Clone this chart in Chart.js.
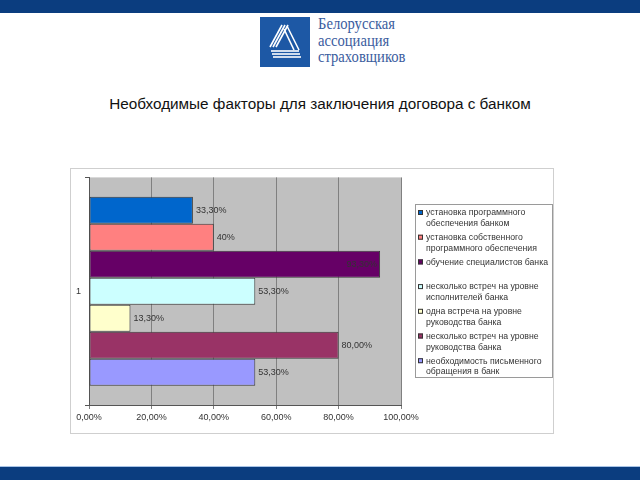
<!DOCTYPE html>
<html>
<head>
<meta charset="utf-8">
<script src="https://cdn.jsdelivr.net/npm/chart.js@4"></script>
<style>
  html, body { margin: 0; padding: 0; }
  body { width: 640px; height: 480px; position: relative; background: #fff; overflow: hidden; font-family: 'Liberation Sans', Arial, sans-serif; }
  .band-top { position: absolute; left: 0; top: 0; width: 640px; height: 13px; background: #0b3d7f; }
  .band-bottom { position: absolute; left: 0; top: 466px; width: 640px; height: 14px; background: #0b3d7f; border-top: 1px solid #a9c4e6; box-sizing: border-box; }
  .logo { position: absolute; left: 260px; top: 17px; width: 50px; height: 50px; }
  .logo-text { position: absolute; left: 318px; top: 16px; font-family: 'Liberation Serif', serif; font-size: 17px; line-height: 16.5px; color: #3a5c9e; transform: scaleX(0.86); transform-origin: left top; }
  .title { position: absolute; left: 0; top: 95px; width: 640px; text-align: center; font-size: 15.3px; color: #111; }
  .chart-box { position: absolute; left: 70px; top: 168px; width: 484px; height: 266px; border: 1px solid #cfcfcf; box-sizing: border-box; background: #fff; }
  #chart { position: absolute; left: 70px; top: 168px; }
</style>
</head>
<body>
<div class="band-top"></div>
<svg class="logo" viewBox="0 0 50 50">
  <rect width="50" height="50" fill="#1d58a5"/>
  <g stroke="#fff" stroke-width="1.6" fill="none">
    <path d="M22 8 L10 30"/><path d="M25 8 L13 30"/><path d="M28 8 L16 30"/>
    <path d="M27 9 L39 33"/><path d="M24 12 L34 33"/>
    <path d="M11 34 L39 34"/><path d="M12 37 L40 37"/><path d="M13 40 L41 40"/>
  </g>
</svg>
<div class="logo-text">Белорусская<br>ассоциация<br>страховщиков</div>
<div class="title">Необходимые факторы для заключения договора с банком</div>
<div class="band-bottom"></div>
<div class="chart-box"></div>
<canvas id="chart" width="484" height="266"></canvas>
<script>
const categories = ['1'];
const seriesNames = [
  'установка программного\nобеспечения банком',
  'установка собственного\nпрограммного обеспечения',
  'обучение специалистов банка',
  'несколько встреч на уровне\nисполнителей банка',
  'одна встреча на уровне\nруководства банка',
  'несколько встреч на уровне\nруководства банка',
  'необходимость письменного\nобращения в банк'
];
const seriesValues = [33.3, 40, 93.3, 53.3, 13.3, 80, 53.3];
const valueLabels = ['33,30%', '40%', '93,30%', '53,30%', '13,30%', '80,00%', '53,30%'];
const seriesColors = ['#0066cc', '#ff8080', '#660066', '#ccffff', '#ffffcc', '#993366', '#9999ff'];
const xTicks = [0, 20, 40, 60, 80, 100];

const ctx = document.getElementById('chart').getContext('2d');

const plotBackground = {
  id: 'plotBackground',
  beforeDraw(chart) {
    const a = chart.chartArea;
    const c = chart.ctx;
    c.save();
    c.fillStyle = '#c0c0c0';
    c.fillRect(a.left, a.top, a.right - a.left, a.bottom - a.top);
    c.restore();
  }
};

const valueText = {
  id: 'valueText',
  afterDatasetsDraw(chart) {
    const c = chart.ctx;
    c.save();
    c.font = '9px "Liberation Sans"';
    c.fillStyle = '#333';
    c.textBaseline = 'middle';
    chart.data.datasets.forEach((ds, i) => {
      const bar = chart.getDatasetMeta(i).data[0];
      if (ds.data[0] > 90) {
        c.textAlign = 'right';
        c.fillText(valueLabels[i], bar.x - 3, bar.y);
      } else {
        c.textAlign = 'left';
        c.fillText(valueLabels[i], bar.x + 3, bar.y);
      }
    });
    c.restore();
  }
};

const sideLegend = {
  id: 'sideLegend',
  afterDraw(chart) {
    const c = chart.ctx;
    const left = 345, top = 36, right = 482, bottom = 209;
    c.save();
    c.strokeStyle = '#9a9a9a';
    c.lineWidth = 1;
    c.strokeRect(left + 0.5, top + 0.5, right - left, bottom - top);
    c.font = '8.7px "Liberation Sans"';
    c.textBaseline = 'middle';
    c.textAlign = 'left';
    chart.data.datasets.forEach((ds, i) => {
      const y = 45 + i * 24.7;
      c.fillStyle = ds.backgroundColor;
      c.fillRect(348, y - 3, 5, 5);
      c.strokeStyle = '#333';
      c.strokeRect(348.5, y - 2.5, 4, 4);
      c.fillStyle = '#333';
      ds.label.split('\n').forEach((line, k) => {
        c.fillText(line, 356, y + k * 10.7);
      });
    });
    c.restore();
  }
};

new Chart(ctx, {
  type: 'bar',
  data: {
    labels: categories,
    datasets: seriesNames.map((name, i) => ({
      label: name,
      data: [seriesValues[i]],
      backgroundColor: seriesColors[i],
      borderColor: '#3a3a3a',
      borderWidth: 1,
      borderSkipped: false,
      categoryPercentage: 0.83,
      barPercentage: 1.0
    }))
  },
  options: {
    indexAxis: 'y',
    responsive: false,
    animation: false,
    layout: { padding: { left: 0, top: 6, right: 153, bottom: 0 } },
    plugins: {
      legend: { display: false },
      tooltip: { enabled: false }
    },
    scales: {
      x: {
        min: 0,
        max: 100,
        afterBuildTicks(scale) {
          scale.ticks = xTicks.map(v => ({ value: v }));
        },
        afterFit(scale) { scale.height = 29; },
        grid: { color: '#808080', lineWidth: 1, tickLength: 4, drawTicks: true },
        border: { display: true, color: '#555' },
        ticks: {
          font: { family: 'Liberation Sans', size: 9 },
          color: '#333',
          padding: 3,
          callback: v => v.toFixed(2).replace('.', ',') + '%'
        }
      },
      y: {
        afterFit(scale) { scale.width = 19; },
        grid: { offset: true, drawOnChartArea: false, color: '#555', tickLength: 4 },
        border: { display: true, color: '#555' },
        ticks: {
          font: { family: 'Liberation Sans', size: 9 },
          color: '#333',
          padding: 4
        }
      }
    }
  },
  plugins: [plotBackground, valueText, sideLegend]
});
</script>
</body>
</html>
